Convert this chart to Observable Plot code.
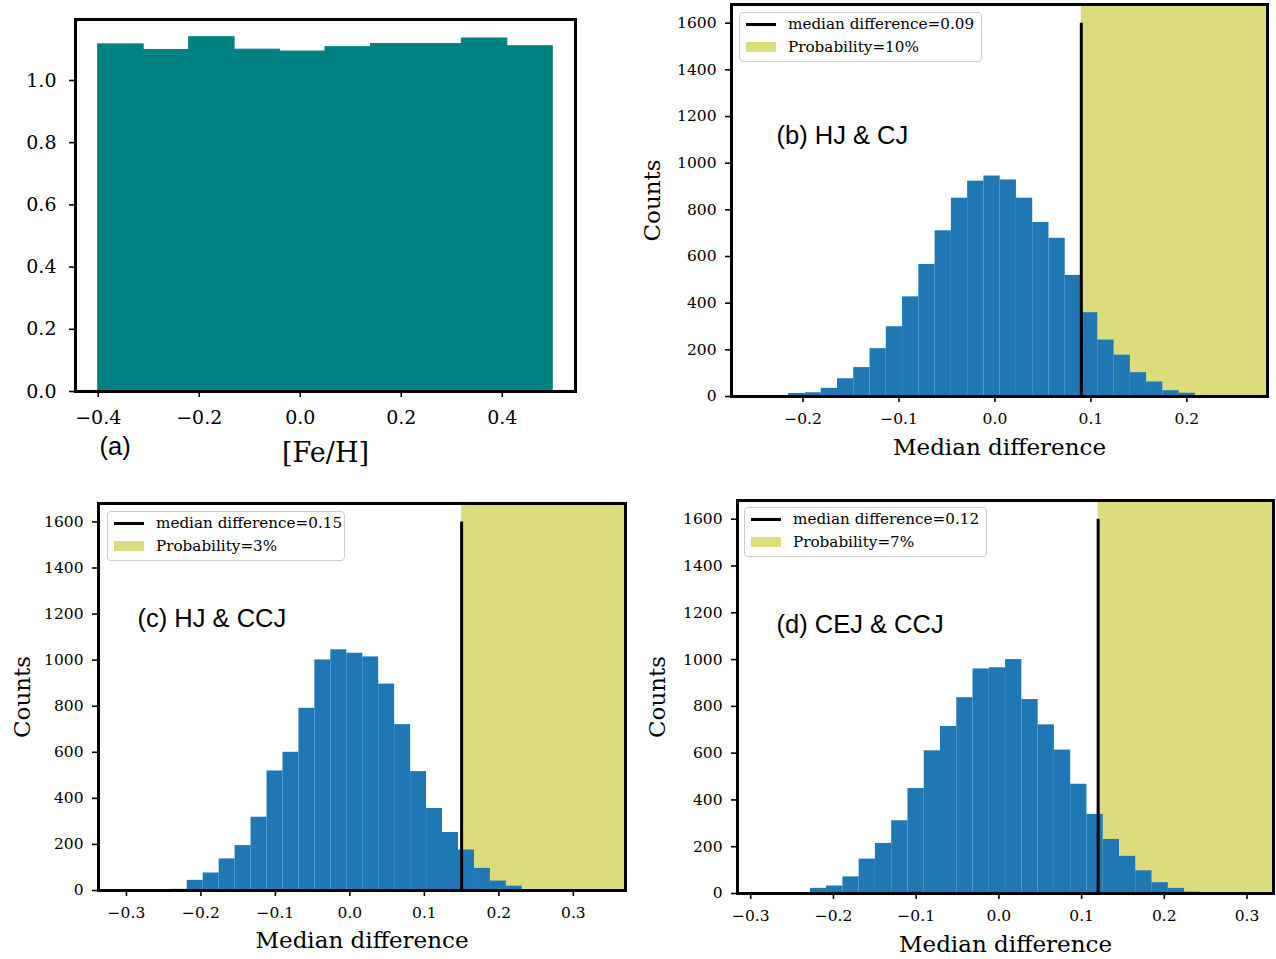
<!DOCTYPE html>
<html><head><meta charset="utf-8">
<script src="https://cdn.jsdelivr.net/npm/d3@7"></script>
<script src="https://cdn.jsdelivr.net/npm/@observablehq/plot@0.6"></script>
<style>
body{margin:0;background:#fff;}
#fig{position:relative;width:1276px;height:959px;overflow:hidden;background:#fff;}
.panel{position:absolute;}
.legend{position:absolute;border:1px solid #cccccc;border-radius:4px;background:rgba(255,255,255,0.85);font-family:"DejaVu Serif";font-size:15.2px;color:#000;box-sizing:border-box;}
.legend .ln{position:absolute;height:3px;background:#000;width:30px;}
.legend .pt{position:absolute;height:10px;width:30px;background:#dcdc7d;}
.legend .tx{position:absolute;white-space:nowrap;line-height:18px;}
</style></head>
<body><div id="fig"></div>
<script>
// ---------- data ----------
// panel (a): [Fe/H] normalized histogram
const fehEdges = [-0.4, -0.31, -0.22, -0.13, -0.04, 0.05, 0.14, 0.23, 0.32, 0.41, 0.5];
const fehDensity = [1.116, 1.098, 1.139, 1.099, 1.093, 1.107, 1.117, 1.117, 1.135, 1.110];
const fehTicksX = [-0.4, -0.2, 0.0, 0.2, 0.4];
const fehTicksY = [0.0, 0.2, 0.4, 0.6, 0.8, 1.0];

// panel (b): HJ & CJ
const edgesB = [-0.2149, -0.19795, -0.181, -0.16405, -0.1471, -0.13015, -0.1132, -0.09625, -0.0793, -0.06235, -0.0454, -0.02845, -0.0115, 0.00545, 0.0224, 0.03935, 0.0563, 0.07325, 0.0902, 0.10715, 0.1241, 0.14105, 0.158, 0.17495, 0.1919, 0.20885, 0.2258];
const countsB = [13, 16, 35, 76, 124, 205, 299, 427, 566, 710, 850, 923, 945, 928, 850, 746, 678, 519, 359, 242, 177, 102, 62, 25, 14, 4];
const medianB = 0.09, probB = "10%", titleB = "(b) HJ & CJ";

// panel (c): HJ & CCJ
const edgesC = [-0.2398, -0.21838, -0.19696, -0.17554, -0.15412, -0.1327, -0.11128, -0.08986, -0.06844, -0.04702, -0.0256, -0.00418, 0.01724, 0.03866, 0.06008, 0.0815, 0.10292, 0.12434, 0.14576, 0.16718, 0.1886, 0.21002, 0.23144, 0.25286];
const countsC = [5, 44, 76, 137, 195, 318, 519, 600, 791, 1001, 1045, 1030, 1014, 896, 720, 516, 356, 252, 176, 96, 41, 19, 4];
const medianC = 0.15, probC = "3%", titleC = "(c) HJ & CCJ";

// panel (d): CEJ & CCJ
const edgesD = [-0.2476, -0.22793, -0.20826, -0.18859, -0.16892, -0.14925, -0.12958, -0.10991, -0.09024, -0.07057, -0.0509, -0.03123, -0.01156, 0.00811, 0.02778, 0.04745, 0.06712, 0.08679, 0.10646, 0.12613, 0.1458, 0.16547, 0.18514, 0.20481, 0.22448, 0.24415];
const countsD = [3, 22, 32, 71, 147, 214, 311, 449, 610, 714, 837, 960, 965, 1000, 829, 721, 613, 467, 338, 231, 159, 97, 46, 22, 6];
const medianD = 0.12, probD = "7%", titleD = "(d) CEJ & CCJ";

const ticksB = [-0.2, -0.1, 0.0, 0.1, 0.2];
const ticksCD = [-0.3, -0.2, -0.1, 0.0, 0.1, 0.2, 0.3];
const countTicks = [0, 200, 400, 600, 800, 1000, 1200, 1400, 1600];
const lineTop = 1600;
const countMax = 1680;

// ---------- helpers ----------
const SERIF = "DejaVu Serif", SANS = "Liberation Sans, Arial, sans-serif";
const fig = document.getElementById("fig");
const f1 = d3.format(".1f");
const toBins = (edges, vals) => vals.map((v, i) => ({x1: edges[i], x2: edges[i + 1], y: v}));

function place(el, left, top) {
  const d = document.createElement("div");
  d.className = "panel";
  d.style.left = left + "px"; d.style.top = top + "px";
  d.appendChild(el); fig.appendChild(d);
}

function histPanel(o) {
  const bins = toBins(o.edges, o.counts);
  const span = [{x1: o.median, x2: o.xDomain[1], y1: 0, y2: countMax}];
  return Plot.plot({
    width: 638, height: o.height,
    marginLeft: o.ml, marginRight: o.mr, marginTop: o.mt, marginBottom: o.mb,
    style: {fontFamily: SERIF, color: "black", background: "transparent"},
    x: {domain: o.xDomain},
    y: {domain: [0, countMax]},
    marks: [
      Plot.rect(span, {x1: "x1", x2: "x2", y1: "y1", y2: "y2", fill: "#dcdc7d"}),
      Plot.rectY(bins, {x1: "x1", x2: "x2", y: "y", fill: "#1f77b4", inset: 0}),
      Plot.ruleX([o.median], {y1: 0, y2: lineTop, stroke: "black", strokeWidth: 3}),
      Plot.frame({stroke: "black", strokeWidth: 3}),
      Plot.axisX(o.ticks, {tickSize: 6, tickPadding: 10, fontSize: 15.5, fontFamily: SERIF, tickFormat: f1, strokeWidth: 1.6, label: null}),
      Plot.axisY(countTicks, {tickSize: 6, tickPadding: 9, fontSize: 15.5, fontFamily: SERIF, tickFormat: d3.format("d"), strokeWidth: 1.6, label: null}),
      Plot.text(["Median difference"], {text: d => d, frameAnchor: "bottom", textAnchor: "middle", lineAnchor: "middle", dy: o.xlDy, fontSize: 23, fontFamily: SERIF}),
      Plot.text(["Counts"], {text: d => d, frameAnchor: "left", textAnchor: "middle", lineAnchor: "middle", rotate: -90, dx: o.ylDx, fontSize: 23, fontFamily: SERIF}),
      Plot.text([o.title], {text: d => d, frameAnchor: "top-left", textAnchor: "start", lineAnchor: "middle", dx: o.tDx, dy: o.tDy, fontSize: 25.5, fontFamily: SANS})
    ]
  });
}

function legend(left, top, width, height, median, prob) {
  const L = document.createElement("div");
  L.className = "legend";
  Object.assign(L.style, {left: left + "px", top: top + "px", width: width + "px", height: height + "px"});
  L.innerHTML =
    `<div class="ln" style="left:6px;top:10px"></div>` +
    `<div class="tx" style="left:48px;top:2px">median difference=${median.toFixed(2)}</div>` +
    `<div class="pt" style="left:6px;top:29px"></div>` +
    `<div class="tx" style="left:48px;top:25px">Probability=${prob}</div>`;
  fig.appendChild(L);
}

// ---------- panel (a) ----------
const fehBins = toBins(fehEdges, fehDensity);
const plotA = Plot.plot({
  width: 638, height: 479,
  marginLeft: 75, marginRight: 63, marginTop: 19, marginBottom: 88,
  style: {fontFamily: SERIF, color: "black", background: "transparent"},
  x: {domain: [-0.445, 0.545]},
  y: {domain: [0, 1.196]},
  marks: [
    Plot.rectY(fehBins, {x1: "x1", x2: "x2", y: "y", fill: "#008080", stroke: "#008080", strokeWidth: 1, inset: 0}),
    Plot.frame({stroke: "black", strokeWidth: 3}),
    Plot.axisX(fehTicksX, {tickSize: 6, tickPadding: 13, fontSize: 19, fontFamily: SERIF, tickFormat: f1, strokeWidth: 1.6, label: null}),
    Plot.axisY(fehTicksY, {tickSize: 6, tickPadding: 13, fontSize: 19, fontFamily: SERIF, tickFormat: f1, strokeWidth: 1.6, label: null}),
    Plot.text(["[Fe/H]"], {text: d => d, frameAnchor: "bottom", textAnchor: "middle", lineAnchor: "middle", dy: 62, fontSize: 27, fontFamily: SERIF}),
    Plot.text(["(a)"], {text: d => d, frameAnchor: "bottom-left", textAnchor: "start", lineAnchor: "middle", dx: 24, dy: 55, fontSize: 25.5, fontFamily: SANS})
  ]
});
place(plotA, 0, 0);

// ---------- panels (b), (c), (d) ----------
place(histPanel({edges: edgesB, counts: countsB, median: medianB, title: titleB, ticks: ticksB,
  xDomain: [-0.2745, 0.284], height: 479, ml: 93, mr: 9, mt: 4, mb: 83,
  xlDy: 51, ylDx: -79, tDx: 45, tDy: 131}), 638, 0);
place(histPanel({edges: edgesC, counts: countsC, median: medianC, title: titleC, ticks: ticksCD,
  xDomain: [-0.3375, 0.370], height: 480, ml: 98, mr: 13, mt: 24, mb: 69,
  xlDy: 50, ylDx: -76, tDx: 39, tDy: 115}), 0, 479);
place(histPanel({edges: edgesD, counts: countsD, median: medianD, title: titleD, ticks: ticksCD,
  xDomain: [-0.316, 0.332], height: 480, ml: 99, mr: 3, mt: 21, mb: 66,
  xlDy: 51, ylDx: -80, tDx: 39, tDy: 124}), 638, 479);

// ---------- legends ----------
legend(739, 12, 243, 50, medianB, probB);
legend(107, 511, 238, 50, medianC, probC);
legend(744, 507, 243, 50, medianD, probD);
</script>
</body></html>
